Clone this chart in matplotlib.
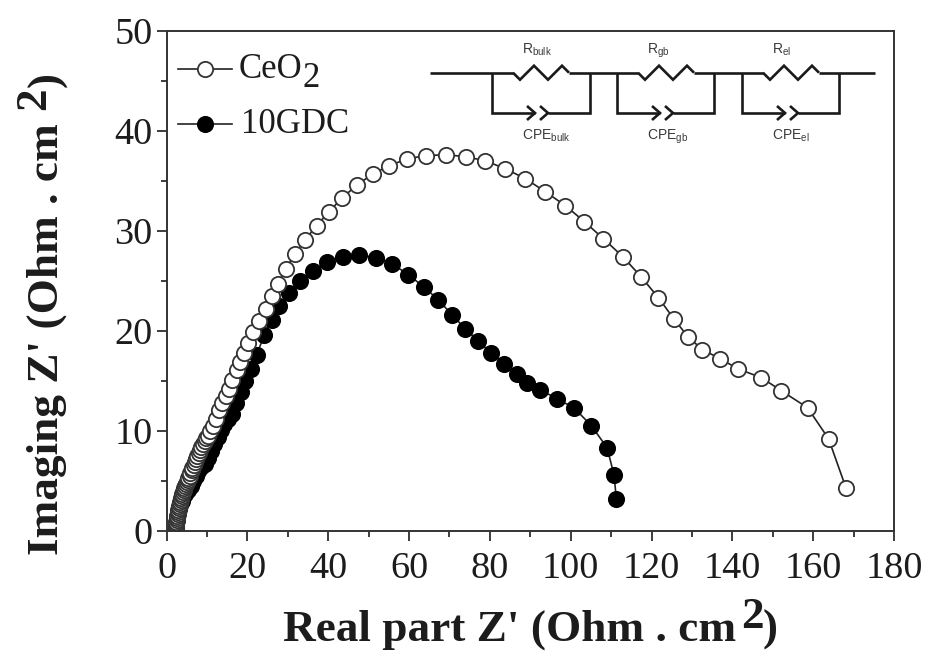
import matplotlib
matplotlib.use("Agg")
import matplotlib.pyplot as plt

ceo2_x = [2.2, 2.3, 2.3, 2.4, 2.4, 2.5, 2.5, 2.6, 2.7, 2.8, 2.9, 3.0, 3.1, 3.2, 3.4, 3.5, 3.6, 3.8, 3.9, 4.1,
          4.2, 4.4, 4.6, 4.8, 5.0, 5.2, 5.4, 5.7, 5.9, 6.2, 6.4, 6.7, 7.0, 7.3, 7.6, 7.9, 8.2, 8.6, 9.0, 9.4, 9.8,
          10.2, 10.8, 11.5, 12.2, 12.9, 13.7, 14.6, 15.4, 16.2, 17.3,
          18.1, 19.2, 20.2, 21.4, 22.9, 24.5, 26.0, 27.6, 29.5, 31.8, 34.3, 37.1, 40.2, 43.5, 47.2,
          51.1, 55.1, 59.6, 64.1, 69.1, 74.0, 78.8, 83.8, 88.8, 93.7, 98.7, 103.4, 108.1, 112.9,
          117.4, 121.7, 125.5, 129.0, 132.6, 137.0, 141.3, 147.2, 152.1, 158.6, 163.8, 168.1]
ceo2_y = [0.1, 0.3, 0.5, 0.7, 0.9, 1.1, 1.3, 1.5, 1.7, 1.9, 2.1, 2.3, 2.5, 2.7, 2.9, 3.1, 3.3, 3.5, 3.7, 3.9,
          4.1, 4.3, 4.5, 4.7, 4.9, 5.1, 5.3, 5.5, 5.8, 6.1, 6.3, 6.6, 6.9, 7.2, 7.5, 7.8, 8.1, 8.4, 8.7, 9.0, 9.3,
          9.5, 10.0, 10.5, 11.2, 12.1, 12.8, 13.5, 14.2, 15.1, 16.1,
          16.9, 17.8, 18.8, 19.9, 21.0, 22.2, 23.5, 24.7, 26.2, 27.7, 29.1, 30.5, 31.9, 33.3, 34.6,
          35.7, 36.5, 37.2, 37.5, 37.6, 37.4, 37.0, 36.2, 35.2, 33.9, 32.5, 30.9, 29.2, 27.4,
          25.4, 23.3, 21.2, 19.4, 18.1, 17.2, 16.2, 15.3, 14.0, 12.3, 9.2, 4.3]

gdc_x = [2.4, 2.4, 2.4, 2.4, 2.5, 2.6, 2.8, 3.1, 3.4, 3.8, 4.1, 4.6, 5.4, 6.0, 6.6, 7.2, 7.8, 8.6,
         9.4, 10.2, 11.0, 11.8, 12.6, 13.5, 14.3, 15.2, 16.1, 17.2, 18.3, 19.5, 20.8, 22.3, 24.2,
         26.0, 27.8, 30.2, 33.0, 36.2, 39.8, 43.6, 47.6, 51.7, 55.8, 59.8, 63.6, 67.2, 70.6, 73.9,
         77.0, 80.2, 83.5, 86.7, 89.3, 92.5, 96.5, 100.8, 105.1, 109.0, 110.7, 111.3]
gdc_y = [0.1, 0.3, 0.5, 0.8, 1.1, 1.4, 1.8, 2.2, 2.6, 3.0, 3.4, 3.7, 4.1, 4.5, 5.0, 5.5, 6.0, 6.4,
         6.7, 7.3, 8.0, 8.7, 9.4, 10.1, 10.7, 11.2, 11.7, 12.8, 13.9, 15.0, 16.2, 17.6, 19.6,
         21.1, 22.5, 23.8, 25.0, 26.0, 26.9, 27.4, 27.6, 27.3, 26.7, 25.6, 24.4, 23.1, 21.6, 20.2,
         19.0, 17.8, 16.7, 15.7, 14.8, 14.1, 13.2, 12.3, 10.5, 8.3, 5.6, 3.2]

x_ticks = list(range(0, 181, 20))
y_ticks = list(range(0, 51, 10))

plt.rcParams['font.family'] = ['Liberation Serif', 'DejaVu Serif']
plt.rcParams['mathtext.fontset'] = 'custom'
plt.rcParams['mathtext.rm'] = 'Liberation Sans'

W, H = 928, 654
ink = '#1c1c1c'
fig = plt.figure(figsize=(W / 100, H / 100), dpi=100)
ax = fig.add_axes([166.6 / W, 1 - 530.7 / H, (894 - 166.6) / W, (530.7 - 30.7) / H])

marker_style = dict(markersize=11, markeredgewidth=1.3, linewidth=1.2, color='#222222')
ax.plot(gdc_x, gdc_y, '-o', markerfacecolor='black', markeredgecolor='black', **marker_style)
ax.plot(ceo2_x, ceo2_y, '-o', markerfacecolor='white', markeredgecolor='#333333', **marker_style)

ax.set_xlim(0, 180)
ax.set_ylim(0, 50)
ax.set_xticks(x_ticks)
ax.set_yticks(y_ticks)
ax.set_xticks(range(10, 180, 20), minor=True)
ax.set_yticks(range(5, 50, 10), minor=True)
ax.tick_params(which='major', length=7, width=1.2, labelsize=27.5, colors=ink, pad=3)
ax.tick_params(axis='x', which='major', pad=8)
ax.tick_params(which='minor', length=4, width=1.2, colors=ink)
for side in ax.spines:
    ax.spines[side].set_linewidth(1.4)
    ax.spines[side].set_color('#333333')

# everything below is placed in reference pixels
ov = fig.add_axes([0, 0, 1, 1], facecolor='none')
ov.set_xlim(0, W)
ov.set_ylim(H, 0)
ov.axis('off')

# x label, the 2 is as big as the rest
lab = dict(fontsize=32.6, fontweight='bold', color=ink, ha='left', va='baseline')
ov.text(283, 641, "Real part Z' (Ohm . cm", **lab)
ov.text(741, 628, "2", **lab)
ov.text(763, 641, ")", **lab)

# y label
rot = dict(rotation=90, rotation_mode='anchor')
ov.text(58, 555, "Imaging Z' (Ohm . cm", **rot, **lab)
ov.text(45, 110, "2", **rot, **lab)
ov.text(58, 87, ")", **rot, **lab)

# legend
ov.plot([178, 232], [69, 69], color='#222222', linewidth=1.2)
ov.plot([205], [69], 'o', markersize=11, markeredgewidth=1.3, markerfacecolor='white', markeredgecolor='#333333')
ov.plot([178, 232], [124, 124], color='#222222', linewidth=1.2)
ov.plot([205], [124], 'o', markersize=11, markeredgewidth=1.3, markerfacecolor='black', markeredgecolor='black')
leg = dict(fontsize=25, color=ink, ha='left', va='baseline')
ov.text(239, 78, "CeO", **leg)
ov.text(303, 87, "2", **leg)
ov.text(241, 133, "10GDC", **leg)

# equivalent circuit
wire = dict(color='#1a1a1a', linewidth=1.9, solid_capstyle='butt', solid_joinstyle='miter')
wire_y = 72.7
low_y = 113
ov.plot([430, 513], [wire_y, wire_y], **wire)
ov.plot([569, 638], [wire_y, wire_y], **wire)
ov.plot([694, 763], [wire_y, wire_y], **wire)
ov.plot([819, 875], [wire_y, wire_y], **wire)
branches = [(492, 590, 513), (617, 714, 638), (742, 839, 763)]
names = ['bulk', 'gb', 'el']
small = dict(fontsize=10, color='#3a3a3a', family='Liberation Sans', ha='left', va='baseline')
for (left, right, res), name in zip(branches, names):
    ov.plot([res, res + 7, res + 21, res + 35, res + 49, res + 56],
            [wire_y, wire_y + 7, wire_y - 7, wire_y + 7, wire_y - 7, wire_y], **wire)
    cap = left + 43
    ov.plot([left, left, cap], [wire_y, low_y, low_y], **wire)
    ov.plot([cap + 13, right, right], [low_y, low_y, wire_y], **wire)
    ov.plot([cap - 8, cap, cap - 8], [low_y - 7, low_y, low_y + 7], **wire)
    ov.plot([cap + 5, cap + 13, cap + 5], [low_y - 7, low_y, low_y + 7], **wire)
    ov.text(res + 9, 54, r"R$_{\mathrm{%s}}$" % name, **small)
    ov.text(res + 9, 140, r"CPE$_{\mathrm{%s}}$" % name, **small)

fig.savefig('out.png', dpi=100)
